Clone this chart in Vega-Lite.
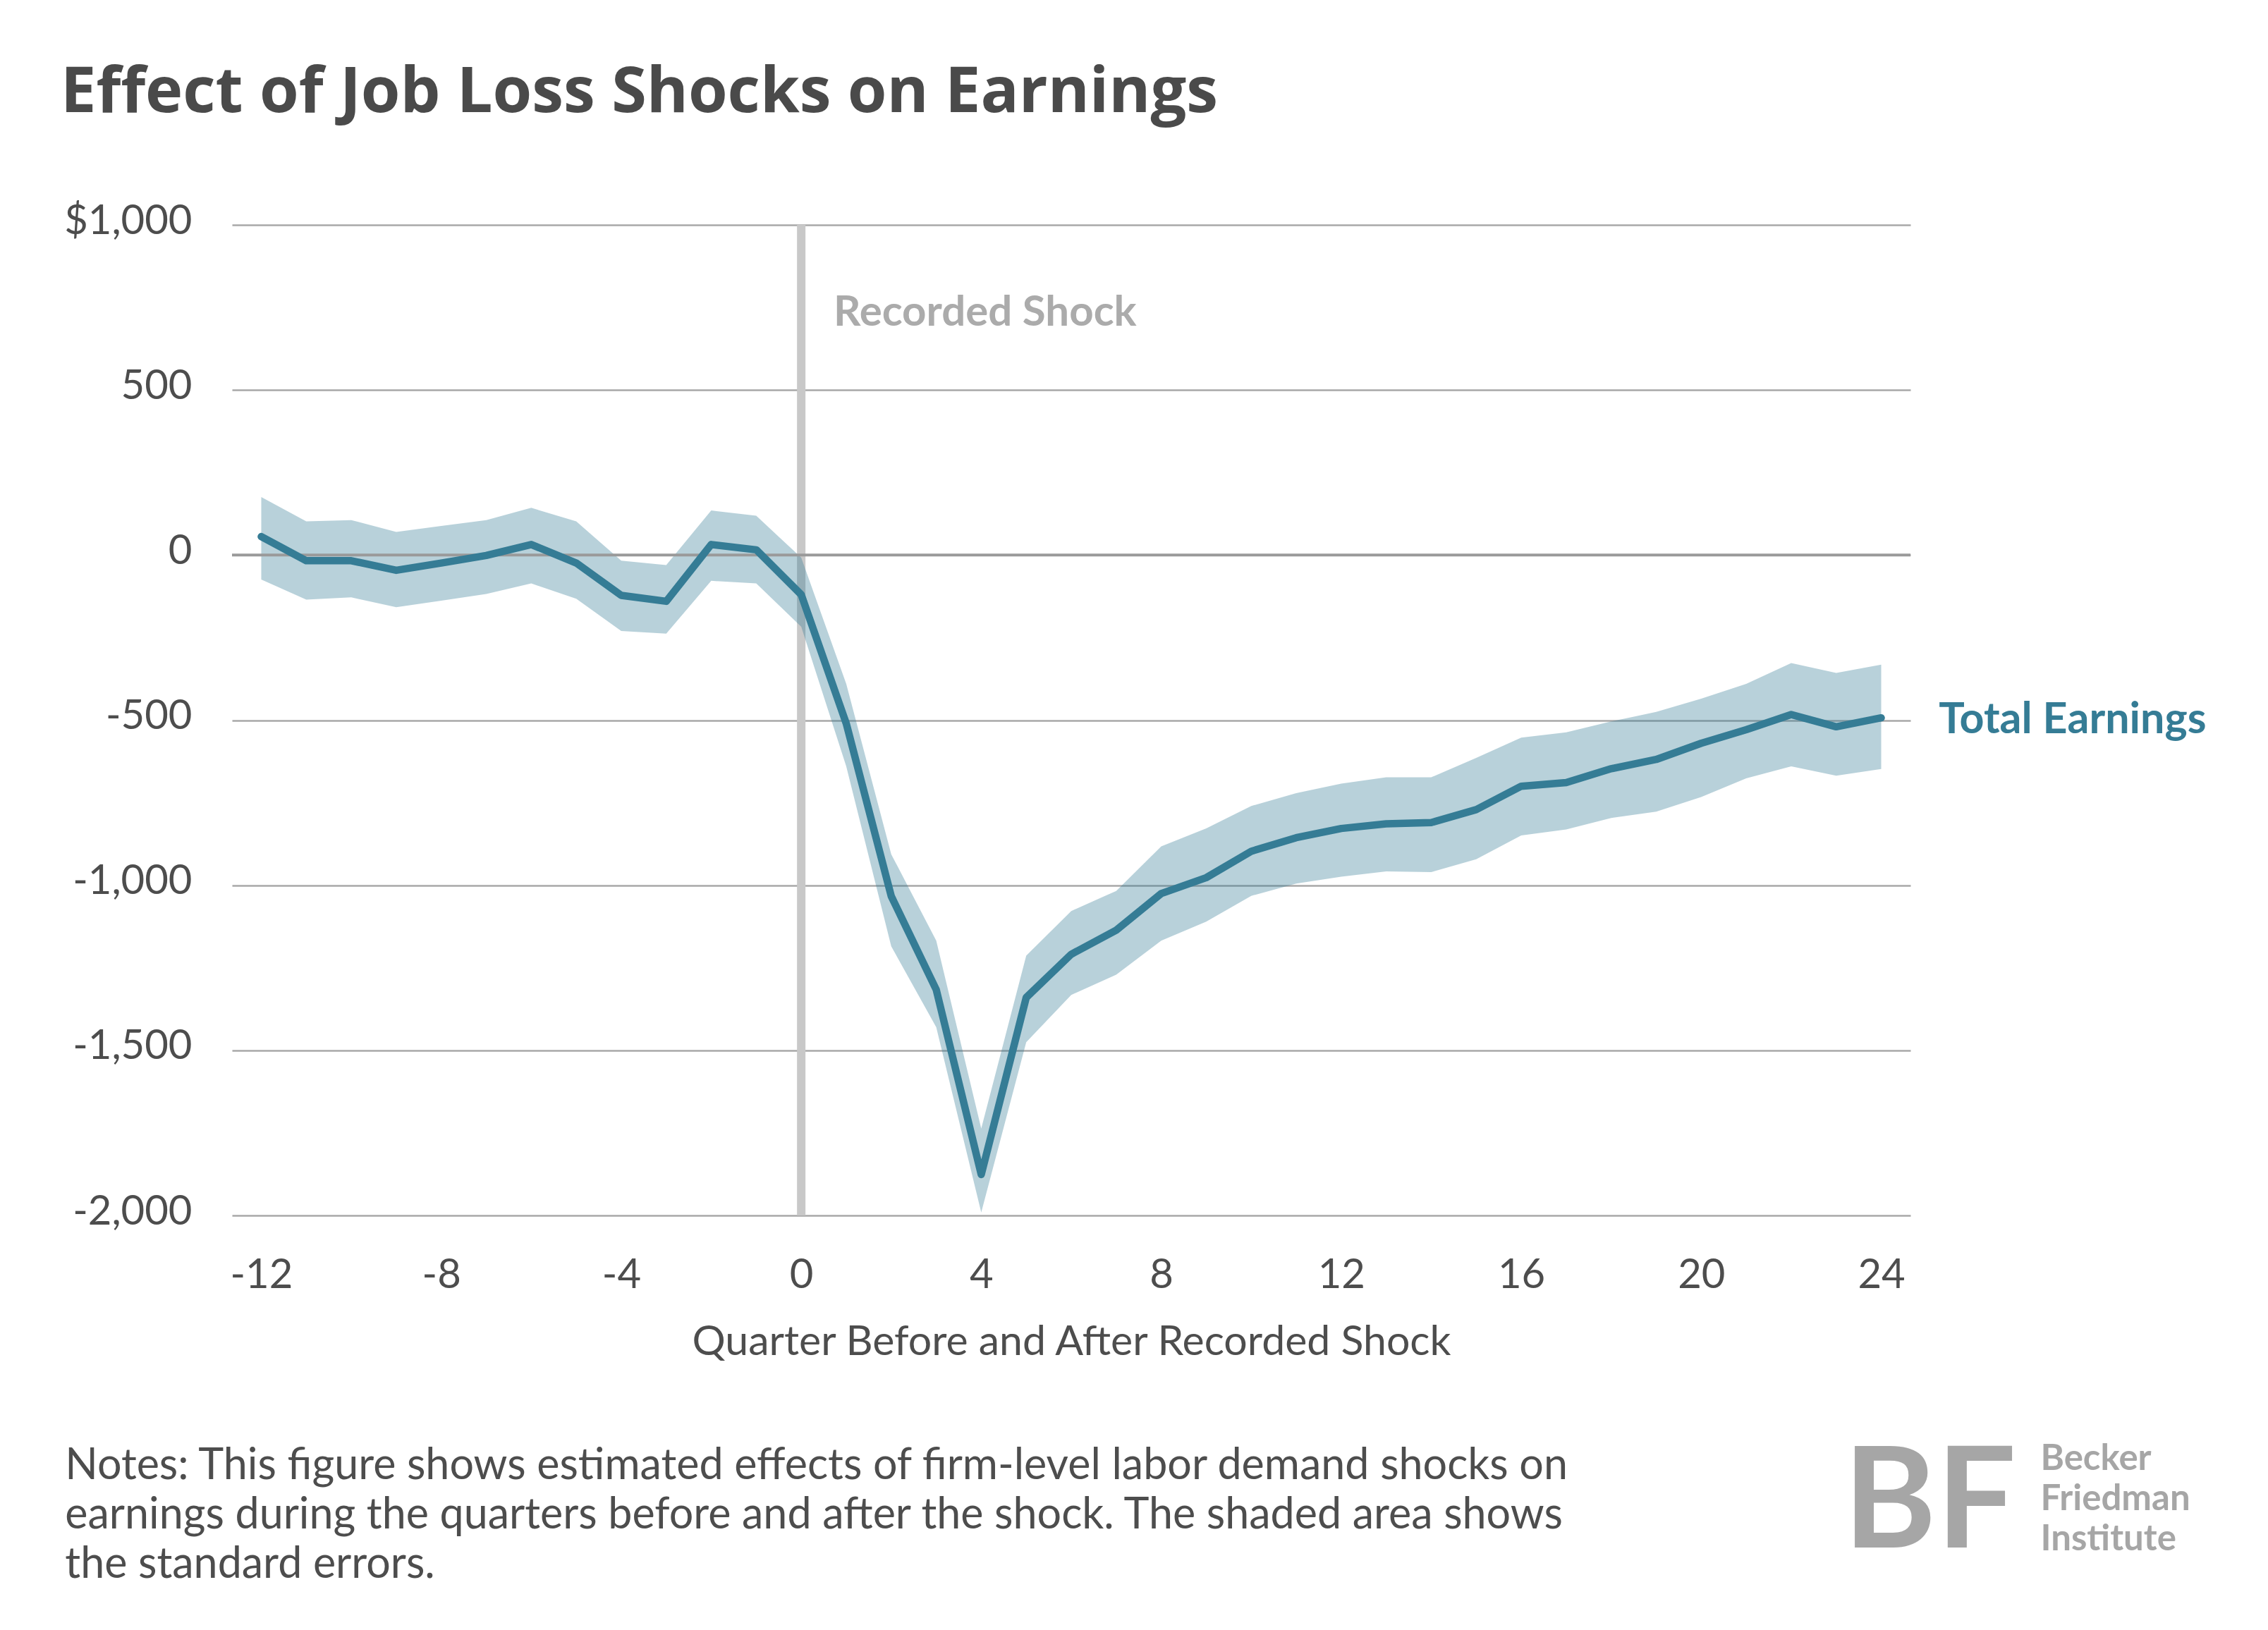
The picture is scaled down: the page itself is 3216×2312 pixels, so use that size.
{
  "$schema": "https://vega.github.io/schema/vega-lite/v6.json",
  "autosize": {"type": "none"},
  "width": 2380,
  "height": 1405,
  "padding": {"left": 329, "top": 319, "right": 507, "bottom": 588},
  "background": "white",
  "title": {
    "text": "Effect of Job Loss Shocks on Earnings",
    "anchor": "start",
    "frame": "group",
    "dx": -243,
    "offset": 36,
    "baseline": "alphabetic",
    "font": "Open Sans",
    "fontSize": 90,
    "fontWeight": "bold",
    "color": "#4a4a4a"
  },
  "config": {
    "view": {"stroke": null},
    "font": "Lato"
  },
  "data": {
    "values": [
      {"quarter": -12, "est": 56, "lo": -74, "hi": 176},
      {"quarter": -11, "est": -17, "lo": -135, "hi": 102},
      {"quarter": -10, "est": -17, "lo": -128, "hi": 106},
      {"quarter": -9, "est": -46, "lo": -158, "hi": 70},
      {"quarter": -8, "est": -24, "lo": -138, "hi": 88},
      {"quarter": -7, "est": -1, "lo": -118, "hi": 106},
      {"quarter": -6, "est": 32, "lo": -86, "hi": 143},
      {"quarter": -5, "est": -24, "lo": -132, "hi": 102},
      {"quarter": -4, "est": -122, "lo": -230, "hi": -17},
      {"quarter": -3, "est": -140, "lo": -238, "hi": -30},
      {"quarter": -2, "est": 32, "lo": -78, "hi": 135},
      {"quarter": -1, "est": 16, "lo": -86, "hi": 119},
      {"quarter": 0, "est": -120, "lo": -217, "hi": -8},
      {"quarter": 1, "est": -510, "lo": -640, "hi": -390},
      {"quarter": 2, "est": -1033, "lo": -1185, "hi": -906},
      {"quarter": 3, "est": -1316, "lo": -1430, "hi": -1168},
      {"quarter": 4, "est": -1876, "lo": -1991, "hi": -1737},
      {"quarter": 5, "est": -1340, "lo": -1475, "hi": -1213},
      {"quarter": 6, "est": -1209, "lo": -1332, "hi": -1078},
      {"quarter": 7, "est": -1136, "lo": -1271, "hi": -1017},
      {"quarter": 8, "est": -1025, "lo": -1168, "hi": -882},
      {"quarter": 9, "est": -977, "lo": -1110, "hi": -828},
      {"quarter": 10, "est": -897, "lo": -1032, "hi": -760},
      {"quarter": 11, "est": -856, "lo": -995, "hi": -721},
      {"quarter": 12, "est": -828, "lo": -974, "hi": -692},
      {"quarter": 13, "est": -814, "lo": -958, "hi": -673},
      {"quarter": 14, "est": -810, "lo": -960, "hi": -673},
      {"quarter": 15, "est": -771, "lo": -921, "hi": -614},
      {"quarter": 16, "est": -700, "lo": -849, "hi": -553},
      {"quarter": 17, "est": -689, "lo": -831, "hi": -537},
      {"quarter": 18, "est": -647, "lo": -796, "hi": -504},
      {"quarter": 19, "est": -619, "lo": -777, "hi": -475},
      {"quarter": 20, "est": -570, "lo": -733, "hi": -435},
      {"quarter": 21, "est": -529, "lo": -676, "hi": -390},
      {"quarter": 22, "est": -483, "lo": -640, "hi": -327},
      {"quarter": 23, "est": -520, "lo": -668, "hi": -357},
      {"quarter": 24, "est": -493, "lo": -648, "hi": -332}
    ]
  },
  "layer": [
    {
      "data": {"values": [{"event": "Recorded Shock"}]},
      "mark": {"type": "rule", "color": "#c8c8c8", "strokeWidth": 12},
      "encoding": {
        "x": {
          "datum": 0,
          "type": "quantitative",
          "scale": {"domain": [-12.65, 24.65], "nice": false, "zero": false},
          "axis": {
            "values": [-12, -8, -4, 0, 4, 8, 12, 16, 20, 24],
            "labelExpr": "datum.value < 0 ? '-' + abs(datum.value) : '' + datum.value",
            "grid": false,
            "domain": false,
            "ticks": false,
            "tickSize": 0,
            "labelFont": "Lato",
            "labelFontSize": 58,
            "labelColor": "#4d4d4d",
            "labelPadding": 56,
            "title": "Quarter Before and After Recorded Shock",
            "titleFont": "Lato",
            "titleFontSize": 59,
            "titleFontWeight": "normal",
            "titleColor": "#4d4d4d",
            "titlePadding": 36
          }
        },
        "y": {
          "datum": 1000,
          "type": "quantitative",
          "scale": {"domain": [-2000, 1000], "nice": false},
          "axis": {
            "values": [-2000, -1500, -1000, -500, 0, 500, 1000],
            "labelExpr": "datum.value == 1000 ? '$1,000' : replace(format(datum.value, ','), '−', '-')",
            "grid": true,
            "gridColor": "#a8a8a8",
            "gridWidth": 2.5,
            "domain": false,
            "ticks": false,
            "tickSize": 0,
            "labelFont": "Lato",
            "labelFontSize": 58,
            "labelColor": "#4d4d4d",
            "labelPadding": 57,
            "labelOffset": -5,
            "labelLimit": 0,
            "title": null
          }
        },
        "y2": {"datum": -2000}
      }
    },
    {
      "mark": {"type": "area", "color": "#357c95", "opacity": 0.35},
      "encoding": {
        "x": {"field": "quarter", "type": "quantitative"},
        "y": {"field": "hi", "type": "quantitative"},
        "y2": {"field": "lo"}
      }
    },
    {
      "data": {"values": [{"ref": 0}]},
      "mark": {"type": "rule", "color": "#9a9a9a", "strokeWidth": 4},
      "encoding": {
        "y": {"field": "ref", "type": "quantitative"}
      }
    },
    {
      "mark": {"type": "line", "color": "#357c95", "strokeWidth": 10.5, "strokeCap": "round", "strokeJoin": "round"},
      "encoding": {
        "x": {"field": "quarter", "type": "quantitative"},
        "y": {"field": "est", "type": "quantitative"}
      }
    },
    {
      "data": {"values": [{"label": "Recorded Shock"}]},
      "mark": {"type": "text", "align": "left", "baseline": "alphabetic", "font": "Lato", "fontSize": 60, "fontWeight": "bold", "color": "#ababab"},
      "encoding": {
        "x": {"datum": 0.72, "type": "quantitative"},
        "y": {"datum": 695, "type": "quantitative"},
        "text": {"field": "label"}
      }
    },
    {
      "data": {"values": [{"label": "Total Earnings"}]},
      "mark": {"type": "text", "align": "left", "baseline": "alphabetic", "font": "Lato", "fontSize": 61, "fontWeight": "bold", "color": "#357c95"},
      "encoding": {
        "x": {"datum": 25.28, "type": "quantitative"},
        "y": {"datum": -540, "type": "quantitative"},
        "text": {"field": "label"}
      }
    },
    {
      "data": {"values": [{"note": "Notes: This figure shows estimated effects of firm-level labor demand shocks on\nearnings during the quarters before and after the shock. The shaded area shows\nthe standard errors."}]},
      "mark": {"type": "text", "align": "left", "baseline": "alphabetic", "lineBreak": "\n", "lineHeight": 70, "font": "Lato", "fontSize": 61, "color": "#4d4d4d"},
      "encoding": {
        "x": {"datum": -16.36, "type": "quantitative"},
        "y": {"datum": -2798, "type": "quantitative"},
        "text": {"field": "note"}
      }
    },
    {
      "data": {"values": [{"logo": "BF"}]},
      "mark": {"type": "text", "align": "right", "baseline": "alphabetic", "font": "Lato", "fontSize": 200, "fontWeight": "bold", "color": "#a6a6a6"},
      "encoding": {
        "x": {"datum": 27.0, "type": "quantitative"},
        "y": {"datum": -3006, "type": "quantitative"},
        "text": {"field": "logo"}
      }
    },
    {
      "data": {"values": [{"org": "Becker\nFriedman\nInstitute"}]},
      "mark": {"type": "text", "align": "left", "baseline": "alphabetic", "lineBreak": "\n", "lineHeight": 57, "font": "Lato", "fontSize": 51, "fontWeight": "bold", "color": "#a6a6a6"},
      "encoding": {
        "x": {"datum": 27.54, "type": "quantitative"},
        "y": {"datum": -2771, "type": "quantitative"},
        "text": {"field": "org"}
      }
    }
  ]
}
